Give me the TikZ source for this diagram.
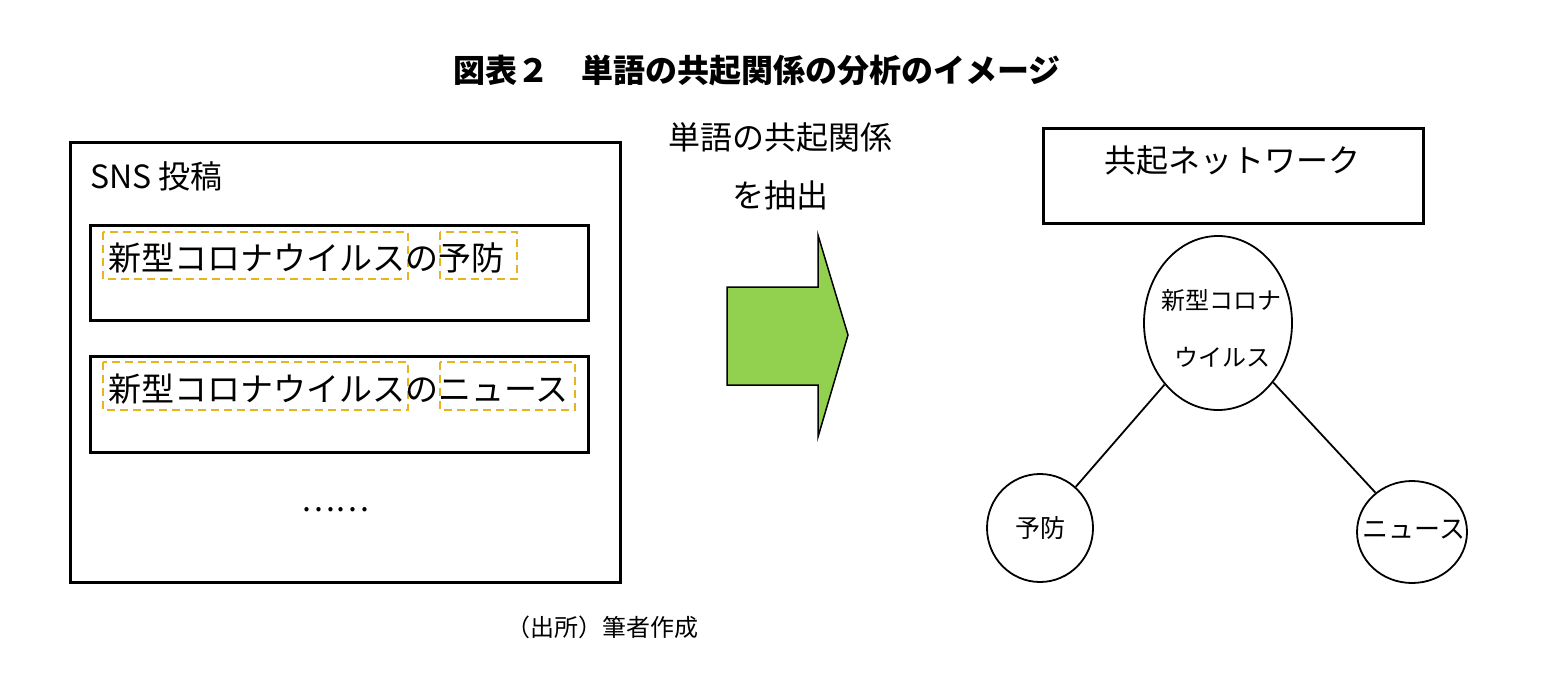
\documentclass[tikz,border=0pt]{standalone}
\usepackage{fontspec}
\setmainfont{Noto Sans CJK JP}
\usetikzlibrary{shapes.geometric}
\definecolor{dash}{RGB}{230,180,30}
\begin{document}
\begin{tikzpicture}[x=1pt,y=-1pt,
  box/.style={draw,line width=3pt},
  dbox/.style={draw=dash,line width=2.5pt,dash pattern=on 8pt off 5pt},
  t/.style={inner sep=0pt,font=\fontsize{32}{32}\selectfont},
  circ/.style={draw,ellipse,line width=1.8pt,inner sep=0pt}]
\useasboundingbox (0,0) rectangle (1547,677);
\node[font=\bfseries\fontsize{32}{32}\selectfont] (title) at (757,70) {図表２　単語の共起関係の分析のイメージ};
\draw[box] (70,142) rectangle (620,582);
\node[t,anchor=west] (sns) at (90,176) {SNS 投稿};
\draw[box] (90,225) rectangle (588,320);
\draw[dbox] (103,232) rectangle (408,279);
\draw[dbox] (440,232) rectangle (517,279);
\node[t,anchor=west,font=\fontsize{33}{33}\selectfont] (p1) at (108,258) {新型コロナウイルスの予防};
\draw[box] (90,356) rectangle (588,452);
\draw[dbox] (103,362) rectangle (408,410);
\draw[dbox] (440,362) rectangle (575,410);
\node[t,anchor=west,font=\fontsize{33}{33}\selectfont] (p2) at (108,389) {新型コロナウイルスのニュース};
\node[t] (dots) at (335,510) {……};
\draw[fill={rgb,255:red,146;green,208;blue,80},line width=1.5pt] (727,287) -- (818,287) -- (818,235) -- (848,335) -- (818,437) -- (818,385) -- (727,385) -- cycle;
\node[t] (l1) at (780,137) {単語の共起関係};
\node[t] (l2) at (780,195) {を抽出};
\draw[box] (1043,128) rectangle (1423,223);
\node[t] (net) at (1232,160) {共起ネットワーク};
\node[circ,minimum width=148pt,minimum height=174pt] (c0) at (1218,323) {};
\node[inner sep=0pt,font=\fontsize{24}{24}\selectfont] at (1221,300) {新型コロナ};
\node[inner sep=0pt,font=\fontsize{24}{24}\selectfont] at (1222,357) {ウイルス};
\node[circ,minimum width=106pt,minimum height=108pt,font=\fontsize{25}{25}\selectfont] (c1) at (1040,528) {予防};
\node[circ,minimum width=110pt,minimum height=102pt] (c2) at (1412,532) {};
\node[inner sep=0pt,font=\fontsize{26}{26}\selectfont] at (1414,530) {ニュース};
\draw[line width=1.8pt] (c0) -- (c1);
\draw[line width=1.8pt] (c0) -- (c2);
\node[inner sep=0pt,font=\fontsize{24}{24}\selectfont] (src) at (602,627) {（出所）筆者作成};
\end{tikzpicture}
\end{document}
